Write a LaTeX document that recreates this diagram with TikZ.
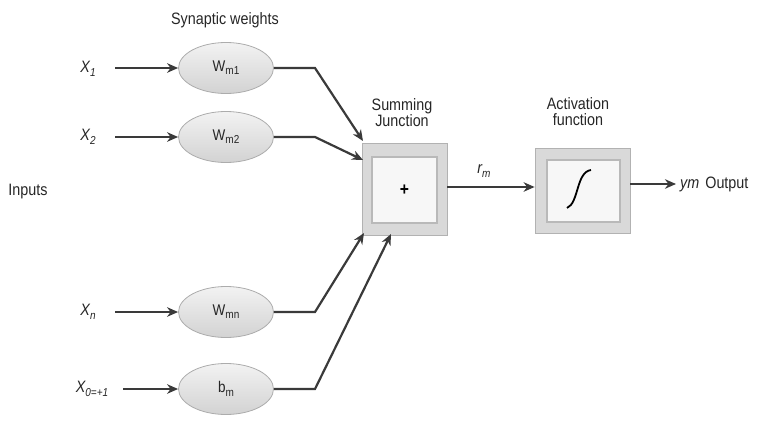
\documentclass[tikz,border=0pt]{standalone}
\usepackage{fontspec}
\setmainfont{Liberation Sans}[FakeStretch=0.87]
\usetikzlibrary{arrows.meta,shapes.geometric}
\definecolor{darkline}{HTML}{3A3A3A}
\newcommand\mysub[1]{\raisebox{-0.4ex}{\fontsize{11.5}{12}\selectfont #1}}
\begin{document}
\begin{tikzpicture}[x=1pt,y=-1pt,
  lbl/.style={font=\fontsize{16.5}{18}\selectfont, inner sep=0, text=black!85},
  wt/.style={ellipse, minimum width=95pt, minimum height=51pt, inner sep=0,
    draw=gray!65, line width=0.8pt, top color=gray!10, bottom color=gray!35,
    font=\fontsize{15.5}{17}\selectfont, text=black!85},
  outerbox/.style={rectangle, inner sep=0, draw=gray!60, line width=0.8pt,
    fill=gray!30},
  innerbox/.style={rectangle, inner sep=0, draw=gray!55, line width=1.5pt,
    fill=gray!6},
  conn/.style={draw=darkline, line width=2.2pt,
    -{Stealth[length=11pt,width=9.5pt,inset=3.5pt]}},
  plain/.style={draw=darkline, line width=2.2pt}]
\path[use as bounding box] (0,0) rectangle (758,423);

% titles
\node[lbl] (syn) at (225,20) {Synaptic weights};
\node[lbl] (inp) at (28,192) {Inputs};
\node[lbl, align=center] (sumlbl) at (402,113) {Summing\\[-2pt]Junction};
\node[lbl, align=center] (actlbl) at (578,112) {Activation\\[-2pt]function};

% input labels
\node[lbl] (x1) at (88,69) {\textit{X\mysub{1}}};
\node[lbl] (x2) at (88,137) {\textit{X\mysub{2}}};
\node[lbl] (xn) at (88,312) {\textit{X\mysub{n}}};
\node[lbl] (x0) at (92,389) {\textit{X\mysub{0=+1}}};

% weight ellipses
\node[wt] (w1) at (226,68) {W\mysub{m1}};
\node[wt] (w2) at (226,137) {W\mysub{m2}};
\node[wt] (wn) at (226,312) {W\mysub{mn}};
\node[wt] (bm) at (226,389) {b\mysub{m}};

% input arrows
\coordinate (s1) at (115,68);
\coordinate (s2) at (115,137);
\coordinate (sn) at (115,312);
\coordinate (s0) at (123,389);
\draw[conn] (s1) -- (w1.west);
\draw[conn] (s2) -- (w2.west);
\draw[conn] (sn) -- (wn.west);
\draw[conn] (s0) -- (bm.west);

% summing junction
\node[outerbox, minimum width=85pt, minimum height=92pt] (sum) at (404.5,189) {};
\node[innerbox, minimum width=65pt, minimum height=66pt] (suminner) at (404.5,190)
  {\fontsize{18}{18}\selectfont\bfseries +};

% activation function
\node[outerbox, minimum width=95pt, minimum height=85pt] (act) at (582.5,190.5) {};
\node[innerbox, minimum width=73pt, minimum height=62pt] (actinner) at (583.5,191) {};
\draw[black, line width=1.8pt] (567,208) .. controls (579,203) and (576,172) .. (591,170);

% weight to summing connectors
\coordinate (b1) at (315,68);
\coordinate (b2) at (315,137);
\coordinate (bn) at (315,312);
\coordinate (b0) at (315,389);
\coordinate (t1) at (363,141);
\coordinate (t2) at (363,160);
\coordinate (tn) at (364,233);
\coordinate (t0) at (391,234);
\draw[conn] (w1.east) -- (b1) -- (t1);
\draw[conn] (w2.east) -- (b2) -- (t2);
\draw[conn] (wn.east) -- (bn) -- (tn);
\draw[conn] (bm.east) -- (b0) -- (t0);

% rm arrow
\draw[conn] (sum.east |- 0,187) -- (act.west |- 0,187);
\node[lbl] (rm) at (484,171) {\textit{r\mysub{m}}};

% output
\coordinate (out) at (676,184);
\draw[conn] (act.east |- out) -- (out);
\node[lbl, anchor=west] (ym) at (680,184) {\textit{ym}\hspace{6pt}Output};
\end{tikzpicture}
\end{document}
